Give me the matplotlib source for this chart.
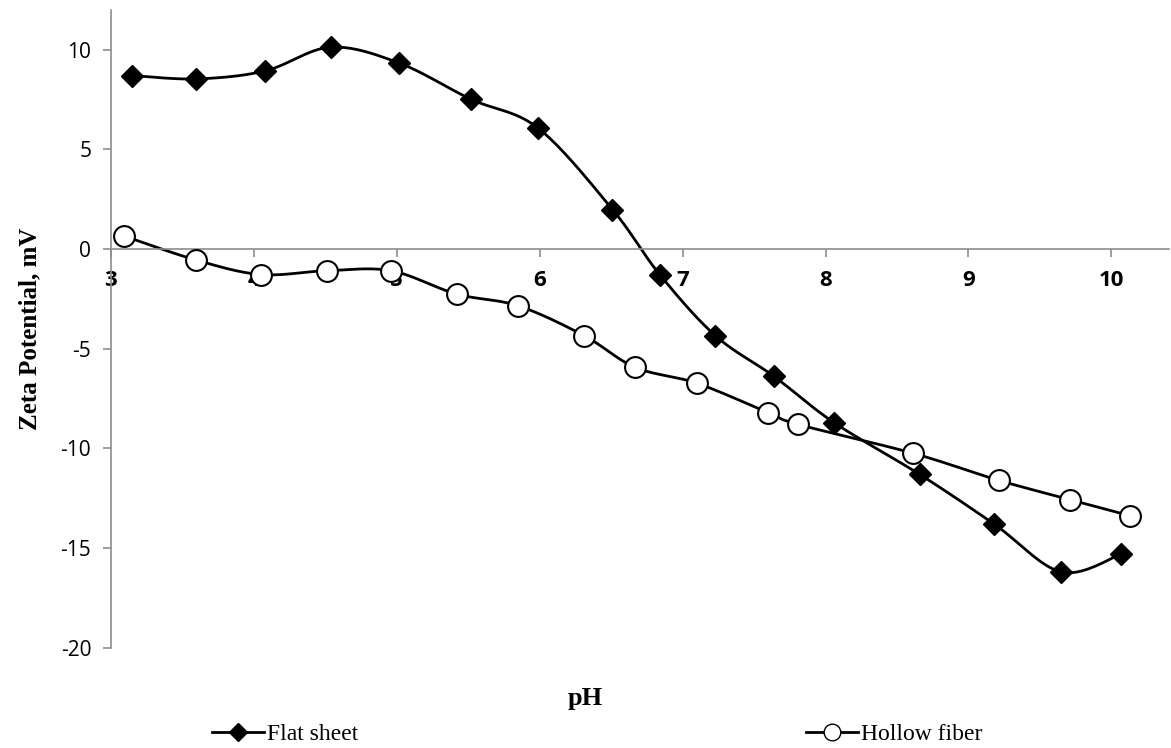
import numpy as np
from matplotlib import pyplot as plt
from matplotlib.lines import Line2D

plt.rcParams['axes.unicode_minus'] = False

# flat sheet membrane
flat_ph = [3.15, 3.60, 4.08, 4.54, 5.02, 5.52, 5.99, 6.51, 6.84, 7.23, 7.64, 8.06, 8.66, 9.18, 9.65, 10.07]
flat_zeta = [8.70, 8.53, 8.93, 10.12, 9.32, 7.51, 6.06, 1.98, -1.28, -4.35, -6.39, -8.71, -11.31, -13.8, -16.2, -15.3]

# hollow fiber membrane
hollow_ph = [3.09, 3.60, 4.05, 4.51, 4.96, 5.42, 5.85, 6.31, 6.67, 7.10, 7.60, 7.81, 8.61, 9.21, 9.71, 10.13]
hollow_zeta = [0.66, -0.56, -1.28, -1.09, -1.09, -2.26, -2.85, -4.34, -5.94, -6.73, -8.21, -8.80, -10.24, -11.60, -12.57, -13.38]

x_ticks = [3, 4, 5, 6, 7, 8, 9, 10]
y_ticks = [-20, -15, -10, -5, 0, 5, 10]


def smooth(x, y, n=20):
    """Catmull-Rom curve through the points, like Excel's smoothed line"""
    p = np.column_stack([x, y])
    p = np.vstack([p[0], p, p[-1]])
    out = []
    for i in range(1, len(p) - 2):
        p0, p1, p2, p3 = p[i - 1], p[i], p[i + 1], p[i + 2]
        for t in np.linspace(0, 1, n, endpoint=False):
            t2, t3 = t * t, t * t * t
            out.append(0.5 * ((2 * p1) + (-p0 + p2) * t + (2 * p0 - 5 * p1 + 4 * p2 - p3) * t2
                              + (-p0 + 3 * p1 - 3 * p2 + p3) * t3))
    out.append(p[-2])
    out = np.array(out)
    return out[:, 0], out[:, 1]


fig = plt.figure(figsize=(11.71, 7.48), dpi=100)
ax = fig.add_axes([0.0945, 0.134, 0.9035, 0.853])

sx, sy = smooth(flat_ph, flat_zeta)
ax.plot(sx, sy, color='black', lw=2, zorder=2)
ax.plot(flat_ph, flat_zeta, 'D', color='black', ms=11, zorder=3)
sx, sy = smooth(hollow_ph, hollow_zeta)
ax.plot(sx, sy, color='black', lw=2, zorder=2)
ax.plot(hollow_ph, hollow_zeta, 'o', mfc='white', mec='black', mew=1.5, ms=15, zorder=3)

ax.set_xlim(3, 10.4)
ax.set_ylim(-20, 12)
ax.set_xticks(x_ticks)
ax.set_yticks(y_ticks)
ax.spines['top'].set_visible(False)
ax.spines['right'].set_visible(False)
ax.spines['bottom'].set_position(('data', 0))
for s in ['left', 'bottom']:
    ax.spines[s].set_color('#8c8c8c')
    ax.spines[s].set_linewidth(1.2)
ax.tick_params(axis='both', color='#8c8c8c', length=6, width=1.2)
ax.tick_params(axis='x', pad=9)
ax.tick_params(axis='y', pad=8)
for lbl in ax.get_xticklabels():
    lbl.set_fontfamily('Open Sans')
    lbl.set_fontweight('bold')
    lbl.set_fontsize(16)
for lbl in ax.get_yticklabels():
    lbl.set_fontfamily('Open Sans')
    lbl.set_fontsize(15)

ax.set_ylabel('Zeta Potential, mV', fontfamily='Liberation Serif', fontweight='bold', fontsize=18, labelpad=14)
fig.text(0.5, 0.066, 'pH', ha='center', va='center', fontfamily='Liberation Serif', fontweight='bold', fontsize=19)

handles = [Line2D([], [], color='black', lw=2, marker='D', ms=9),
           Line2D([], [], color='black', lw=2, marker='o', mfc='white', mec='black', ms=12)]
fig.legend(handles, ['Flat sheet', 'Hollow fiber'], loc='center', bbox_to_anchor=(0.51, 0.018),
           ncol=2, frameon=False, columnspacing=19, handlelength=2.2, handletextpad=0.1,
           prop={'family': 'Liberation Serif', 'size': 17})

fig.savefig('out.png')
